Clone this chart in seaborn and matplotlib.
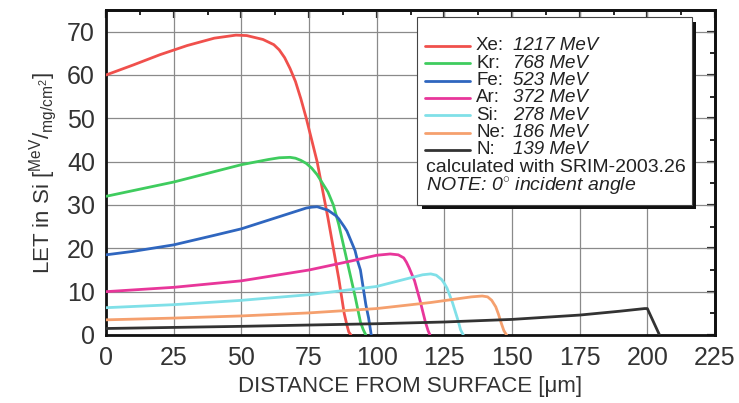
import numpy as np
import pandas as pd
import matplotlib
matplotlib.use("Agg")
import matplotlib.pyplot as plt
import seaborn as sns
from matplotlib.ticker import MultipleLocator
from matplotlib.patches import Rectangle

# ---- data ----
ions = ["Xe", "Kr", "Fe", "Ar", "Si", "Ne", "N"]
energies = ["1217 MeV", "768 MeV", "523 MeV", "372 MeV", "278 MeV", "186 MeV", "139 MeV"]
colors = ["#f0504c", "#3fcc5e", "#2f66bf", "#e8369a", "#80e0e8", "#f5a06e", "#333333"]

xe_x = [0, 10, 20, 30, 40, 48, 52, 58, 62, 64, 66, 68, 70, 72, 74, 76, 78, 80, 82, 84, 86, 87, 88, 89, 89.7, 90.5]
xe_y = [60, 62.3, 64.7, 66.8, 68.5, 69.2, 69.1, 68.2, 67, 65.8, 64, 61.5, 58.5, 54.5, 50, 45, 40, 33.5, 27, 20, 13, 9, 5, 2.3, 0.7, 0]

kr_x = [0, 25, 50, 60, 64, 68, 70, 72, 74, 76, 78, 80, 82, 84, 86, 88, 90, 92, 93, 94, 95, 96]
kr_y = [32, 35.3, 39.3, 40.5, 40.9, 41, 40.8, 40.3, 39.6, 38.5, 37, 35, 33, 30, 25.5, 20, 14.5, 9, 6, 3, 1.3, 0]

fe_x = [0, 10, 25, 40, 50, 60, 70, 74, 76, 78, 80, 82, 85, 86, 88, 89, 90, 92, 93, 94, 95, 96, 97, 97.5, 98]
fe_y = [18.5, 19.3, 20.8, 23, 24.5, 26.5, 28.5, 29.3, 29.5, 29.6, 29.2, 28.8, 27.5, 26.8, 25, 24, 22.5, 19.5, 17, 15, 11, 7, 4, 2, 0]

ar_x = [0, 25, 50, 75, 90, 100, 105, 108, 110, 111, 112, 114, 116, 118, 119, 119.7]
ar_y = [10, 11, 12.5, 15, 17, 18.4, 18.7, 18.5, 17.8, 16.8, 15.5, 12.5, 8, 3, 1, 0]

si_x = [0, 25, 50, 75, 100, 110, 117, 120, 122, 124, 125, 126, 128, 130, 131, 132]
si_y = [6.3, 7, 8, 9.3, 11.2, 12.8, 13.9, 14.1, 13.8, 12.8, 11.9, 10.8, 7.5, 3.5, 1.2, 0]

ne_x = [0, 25, 50, 75, 100, 120, 135, 139, 141, 142.5, 144, 145, 146, 147, 148]
ne_y = [3.5, 3.9, 4.4, 5.1, 6.1, 7.5, 8.8, 9.0, 8.8, 8.0, 6.5, 4.8, 2.8, 1.0, 0]

n_x = [0, 50, 100, 125, 150, 175, 190, 199, 200, 204.5]
n_y = [1.5, 2.0, 2.6, 3.0, 3.6, 4.6, 5.5, 6.1, 6.1, 0]

xticks = [0, 25, 50, 75, 100, 125, 150, 175, 200, 225]
yticks = [0, 10, 20, 30, 40, 50, 60, 70]

series_x = [xe_x, kr_x, fe_x, ar_x, si_x, ne_x, n_x]
series_y = [xe_y, kr_y, fe_y, ar_y, si_y, ne_y, n_y]

rows = []
for ion, xs, ys in zip(ions, series_x, series_y):
    for x, y in zip(xs, ys):
        rows.append({"ion": ion, "x": x, "y": y})
df = pd.DataFrame(rows)

# ---- style ----
sns.set_theme(style="white")
plt.rcParams["font.family"] = ["Liberation Sans", "DejaVu Sans"]
plt.rcParams["mathtext.fontset"] = "custom"
plt.rcParams["mathtext.rm"] = "Liberation Sans"
plt.rcParams["mathtext.it"] = "Liberation Sans:italic"

fig = plt.figure(figsize=(7.39, 4.03), dpi=100)
ax = fig.add_axes([106 / 739, 1 - 335 / 403, 609 / 739, 325 / 403])

sns.lineplot(data=df, x="x", y="y", hue="ion", hue_order=ions,
             palette=dict(zip(ions, colors)), estimator=None, sort=False,
             linewidth=2.0, legend=False, ax=ax, zorder=3)

ax.set_xlim(0, 225)
ax.set_ylim(0, 75)
ax.set_xticks(xticks)
ax.set_yticks(yticks)
ax.xaxis.set_minor_locator(MultipleLocator(12.5))
ax.yaxis.set_minor_locator(MultipleLocator(5))
ax.grid(True, which="major", color="#8a8a8a", linewidth=0.9)
ax.set_axisbelow(True)

for sp in ax.spines.values():
    sp.set_color("#111111")
    sp.set_linewidth(2.0)

ax.tick_params(axis="both", which="major", direction="out", length=6, width=1.6,
               color="#111111", labelsize=18, labelcolor="#333333", pad=2)
ax.tick_params(axis="both", which="minor", direction="out", length=3.5, width=1.4,
               color="#111111")

secx = ax.secondary_xaxis("top")
secx.set_xticks(xticks)
secx.xaxis.set_minor_locator(MultipleLocator(12.5))
secx.tick_params(which="major", direction="in", length=6, width=1.6, labeltop=False)
secx.tick_params(which="minor", direction="in", length=3.5, width=1.4)
secx.spines["top"].set_linewidth(2.0)

secy = ax.secondary_yaxis("right")
secy.set_yticks(yticks)
secy.yaxis.set_minor_locator(MultipleLocator(5))
secy.tick_params(which="major", direction="in", length=6, width=1.6, labelright=False)
secy.tick_params(which="minor", direction="in", length=3.5, width=1.4)
secy.spines["right"].set_linewidth(2.0)

ax.set_xlabel("DISTANCE FROM SURFACE [\u03bcm]", fontsize=16, color="#333333", labelpad=4)
ax.set_ylabel(r"LET in Si [$^{\rm MeV}/_{\rm mg/cm^2}$]", fontsize=16, color="#333333", labelpad=6)

# ---- legend box (drawn manually) ----
def fx(px):
    return (px - 106) / 609

def fy(py):
    return (335 - py) / 325

shadow = Rectangle((fx(422), fy(209)), fx(696) - fx(422), fy(22) - fy(209),
                   transform=ax.transAxes, facecolor="#111111", edgecolor="none", zorder=5)
box = Rectangle((fx(417), fy(205)), fx(692) - fx(417), fy(17) - fy(205),
                transform=ax.transAxes, facecolor="white", edgecolor="#444444",
                linewidth=0.8, zorder=6)
ax.add_patch(shadow)
ax.add_patch(box)

for i, (ion, en, c) in enumerate(zip(ions, energies, colors)):
    py = 46 + i * 17.3
    ax.plot([fx(425), fx(470)], [fy(py), fy(py)], transform=ax.transAxes,
            color=c, linewidth=2.0, zorder=7, clip_on=False)
    ax.text(fx(476), fy(py), ion + ":", transform=ax.transAxes, fontsize=13.5,
            color="#222222", va="center", ha="left", zorder=8)
    ax.text(fx(513), fy(py), en, transform=ax.transAxes, fontsize=13.5,
            color="#222222", va="center", ha="left", style="italic", zorder=8)

ax.text(fx(426), fy(167), "calculated with SRIM-2003.26", transform=ax.transAxes,
        fontsize=14, color="#222222", va="center", ha="left", zorder=8)
ax.text(fx(426), fy(187), "NOTE: 0$^{\\circ}$ incident angle", transform=ax.transAxes,
        fontsize=14, color="#222222", va="center", ha="left", style="italic", zorder=8)

fig.savefig("out.png", dpi=100)
